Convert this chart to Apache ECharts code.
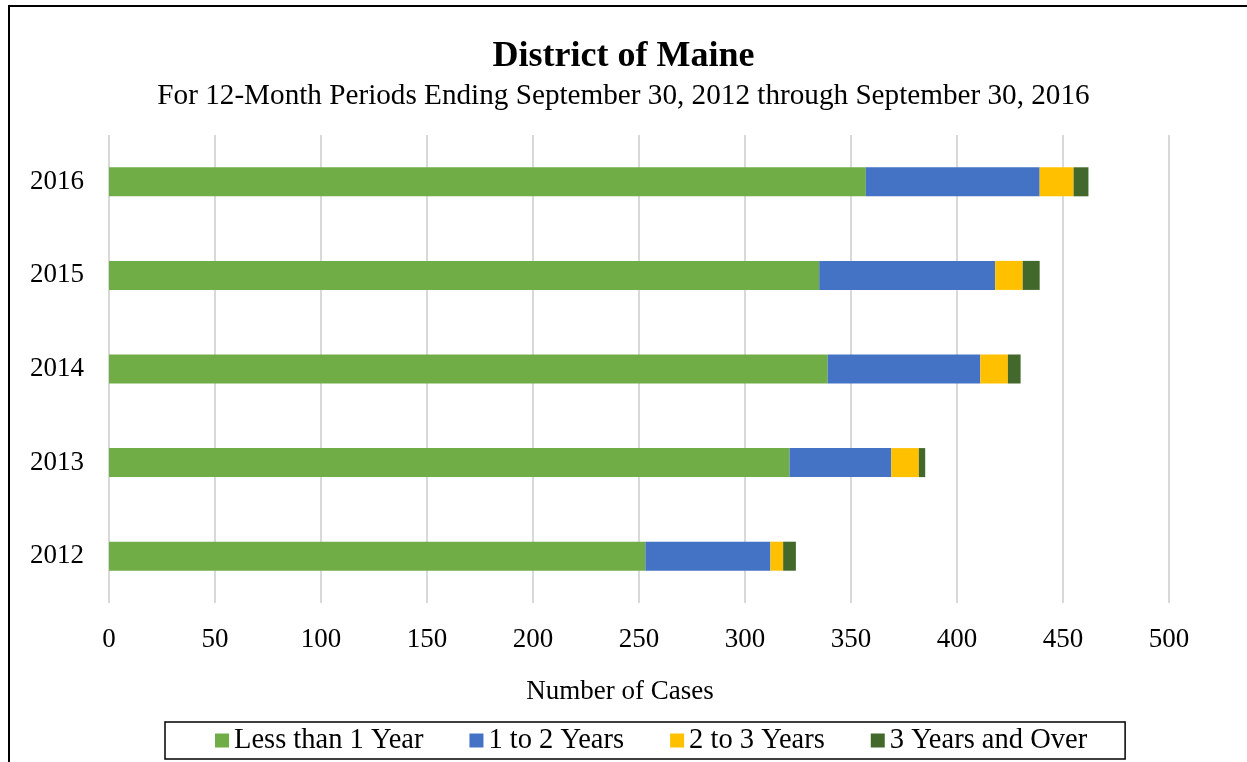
<!DOCTYPE html>
<html>
<head>
<meta charset="utf-8">
<script src="https://cdn.jsdelivr.net/npm/echarts@6/dist/echarts.min.js"></script>
<style>
  html, body { margin: 0; padding: 0; background: #fff; }
  #frame { position: absolute; left: 8px; top: 5px; width: 1250px; height: 770px; border: 2px solid #000; box-sizing: border-box; }
  #main { width: 1247px; height: 762px; position: absolute; left: 0; top: 0; }
</style>
</head>
<body>
<div id="frame"></div>
<div id="main"></div>
<script>
  var years = ['2012', '2013', '2014', '2015', '2016'];
  var lessThan1 = [253, 321, 339, 335, 357];
  var oneToTwo = [59, 48, 72, 83, 82];
  var twoToThree = [6, 13, 13, 13, 16];
  var threePlus = [6, 3, 6, 8, 7];
  var seriesNames = ['Less than 1 Year', '1 to 2 Years', '2 to 3 Years', '3 Years and Over'];
  var colors = ['#70AD47', '#4472C4', '#FFC000', '#43682B'];

  var chart = echarts.init(document.getElementById('main'));
  var font = 'Liberation Serif, Times New Roman, serif';

  function bar(i, data) {
    return {
      name: seriesNames[i],
      type: 'bar',
      stack: 'total',
      data: data,
      barWidth: '31%',
      itemStyle: { color: colors[i] }
    };
  }

  var option = {
    textStyle: { fontFamily: font },
    title: [{
      text: 'District of Maine',
      left: 'center',
      top: 34,
      textStyle: { fontFamily: font, fontSize: 36, fontWeight: 'bold', color: '#000' }
    }, {
      text: 'For 12-Month Periods Ending September 30, 2012 through September 30, 2016',
      left: 'center',
      top: 77,
      textStyle: { fontFamily: font, fontSize: 29.2, fontWeight: 'normal', color: '#000' }
    }],
    legend: {
      bottom: 3,
      left: 165,
      itemWidth: 14,
      itemHeight: 14,
      itemGap: 46,
      icon: 'rect',
      padding: [4, 38, 4, 50],
      borderColor: '#000',
      borderWidth: 1.5,
      textStyle: { fontFamily: font, fontSize: 28.5, color: '#000' },
      data: seriesNames
    },
    grid: { left: 109, right: 78, top: 135, bottom: 159 },
    xAxis: {
      type: 'value',
      min: 0,
      max: 500,
      interval: 50,
      name: 'Number of Cases',
      nameLocation: 'center',
      nameGap: 75,
      nameTextStyle: { fontFamily: font, fontSize: 27, color: '#000', verticalAlign: 'top', padding: [0, 38, 0, 0] },
      axisLine: { show: false },
      axisTick: { show: false },
      axisLabel: { fontFamily: font, fontSize: 27, color: '#000', margin: 23 },
      splitLine: { lineStyle: { color: '#d9d9d9', width: 2 } }
    },
    yAxis: {
      type: 'category',
      data: years,
      axisLine: { show: false },
      axisTick: { show: false },
      axisLabel: { fontFamily: font, fontSize: 27, color: '#000', margin: 25 }
    },
    series: [
      bar(0, lessThan1),
      bar(1, oneToTwo),
      bar(2, twoToThree),
      bar(3, threePlus)
    ]
  };
  chart.setOption(option);
</script>
</body>
</html>
